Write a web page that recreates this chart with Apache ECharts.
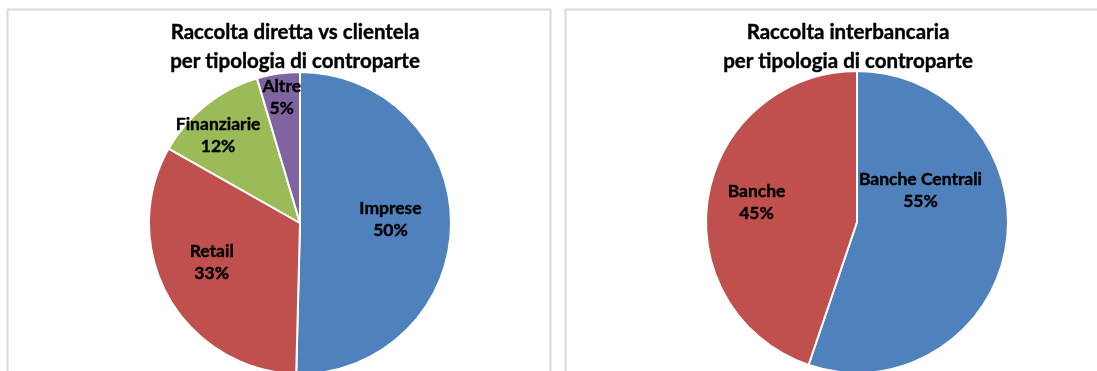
<!DOCTYPE html>
<html>
<head>
<meta charset="utf-8">
<script src="https://cdn.jsdelivr.net/npm/echarts@6/dist/echarts.min.js"></script>
<style>
  html, body { margin: 0; padding: 0; background: #ffffff; }
  #chart { width: 1097px; height: 371px; }
</style>
</head>
<body>
<div id="chart"></div>
<script>
// Raccolta diretta vs clientela, quote per controparte (%)
const clientelaCategories = ['Imprese', 'Retail', 'Finanziarie', 'Altre'];
const clientelaValues = [50.4, 32.8, 12.2, 4.6];

// Raccolta interbancaria, quote per controparte (%)
const interbancariaCategories = ['Banche Centrali', 'Banche'];
const interbancariaValues = [55.2, 44.8];

const titleLeft = 'Raccolta diretta vs clientela\nper tipologia di controparte';
const titleRight = 'Raccolta interbancaria\nper tipologia di controparte';

const sliceColors = {
  'Imprese': '#4F81BD', 'Retail': '#C0504D', 'Finanziarie': '#9BBB59', 'Altre': '#8064A2',
  'Banche Centrali': '#4F81BD', 'Banche': '#C0504D'
};
// nudges that move each inside label to its spot in the slice
const labelNudge = {
  'Imprese': [12, -5], 'Retail': [-20, 1], 'Finanziarie': [-33, -26], 'Altre': [-7, -48],
  'Banche Centrali': [-14, -44], 'Banche': [-23, -7]
};

const FONT = 'Lato, "Open Sans", sans-serif';

function slices(cats, vals) {
  return cats.map((c, i) => ({
    name: c,
    value: vals[i],
    itemStyle: { color: sliceColors[c] },
    label: { offset: labelNudge[c] }
  }));
}

function pieSeries(cats, vals, center) {
  return {
    type: 'pie',
    center: center,
    radius: 151,
    startAngle: 90,
    clockwise: true,
    animation: false,
    silent: true,
    itemStyle: { borderColor: '#ffffff', borderWidth: 2 },
    label: {
      show: true,
      position: 'inside',
      formatter: p => p.name + '\n' + Math.round(p.percent) + '%',
      color: '#000000',
      fontFamily: FONT,
      fontWeight: 'bold',
      fontSize: 17.5,
      lineHeight: 22,
      textBorderColor: '#000000',
      textBorderWidth: 0.4
    },
    labelLine: { show: false },
    data: slices(cats, vals)
  };
}

const titleStyle = {
  fontFamily: FONT, fontWeight: 'bold', fontSize: 20.5, lineHeight: 29, color: '#000000',
  textBorderColor: '#000000', textBorderWidth: 0.4
};

const chart = echarts.init(document.getElementById('chart'), null, { renderer: 'canvas' });
chart.setOption({
  backgroundColor: '#ffffff',
  animation: false,
  title: [
    { text: titleLeft, left: 290, top: 13, textAlign: 'center', textStyle: titleStyle },
    { text: titleRight, left: 843, top: 13, textAlign: 'center', textStyle: titleStyle }
  ],
  graphic: [
    {
      type: 'rect', silent: true, z: -1,
      shape: { x: 7.5, y: 9.5, width: 543, height: 380 },
      style: { fill: 'none', stroke: '#d9d9d9', lineWidth: 2 }
    },
    {
      type: 'rect', silent: true, z: -1,
      shape: { x: 565.5, y: 9.5, width: 545, height: 380 },
      style: { fill: 'none', stroke: '#d9d9d9', lineWidth: 2 }
    }
  ],
  series: [
    pieSeries(clientelaCategories, clientelaValues, [300, 223]),
    pieSeries(interbancariaCategories, interbancariaValues, [857, 222])
  ]
});
</script>
</body>
</html>
